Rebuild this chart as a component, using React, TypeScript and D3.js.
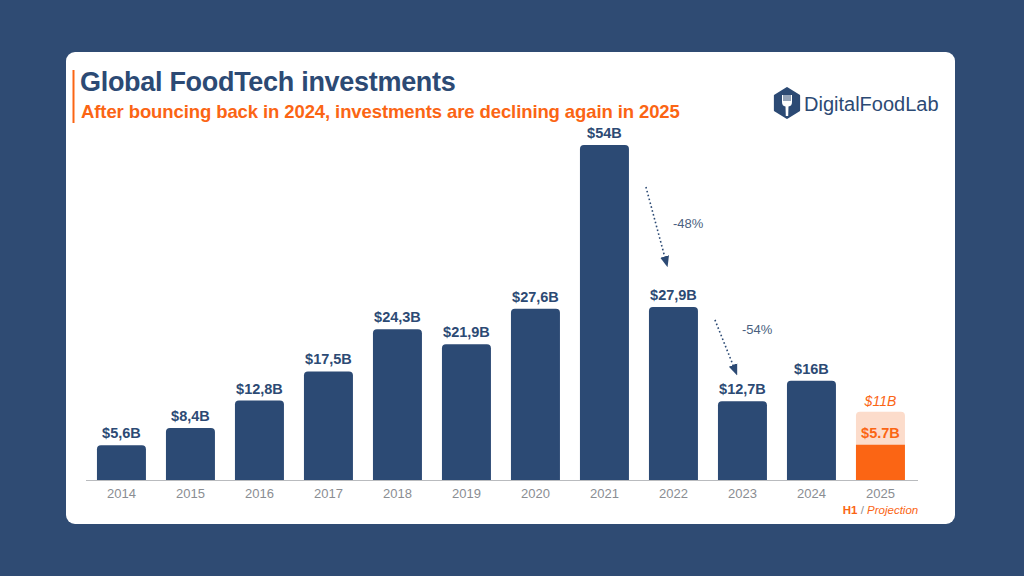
import React from 'react';
import * as d3 from 'd3';

const years = ['2014', '2015', '2016', '2017', '2018', '2019', '2020', '2021', '2022', '2023', '2024', '2025'];
const invest = [5.6, 8.4, 12.8, 17.5, 24.3, 21.9, 27.6, 54, 27.9, 12.7, 16, 5.7];
const labels = ['$5,6B', '$8,4B', '$12,8B', '$17,5B', '$24,3B', '$21,9B', '$27,6B', '$54B', '$27,9B', '$12,7B', '$16B', '$5.7B'];
const projection2025 = 11;
const changeFrom = ['2021', '2022'];
const changeTo = ['2022', '2023'];
const changeText = ['-48%', '-54%'];

const W = 1024, H = 576;
const navy = '#2c4a74';
const orange = '#fb6514';
const lightOrange = '#fcdccb';
const font = '"Liberation Sans", Arial, Helvetica, sans-serif';

export default function App() {
  const base = 480;
  const x = d3.scaleBand<string>().domain(years).range([86.6, 915.3]).paddingInner(0.29).paddingOuter(0.15);
  const y = d3.scaleLinear().domain([0, 54]).range([base, 145]);
  const bw = x.bandwidth();
  const valOf = (yr: string) => invest[years.indexOf(yr)];
  // arrow offsets (start below "from" top, end above "to" top, label shift)
  const arrowGeom = [
    { sy: 42, ey: 45, ty: 41 },
    { sy: 13, ey: 31, ty: 14 },
  ];

  return (
    <svg width={W} height={H} viewBox={`0 0 ${W} ${H}`} style={{ display: 'block', position: 'absolute', left: 0, top: 0 }}>
      <defs>
        <marker id="ah" viewBox="0 0 10 10" refX="5" refY="5" markerWidth="7" markerHeight="7" orient="auto">
          <path d="M0,1 L10,5 L0,9 Z" fill={navy} />
        </marker>
      </defs>
      <rect x={0} y={0} width={W} height={H} fill="#2f4b73" />
      <rect x={66} y={52} width={889} height={472} rx={9} fill="#ffffff" />

      {/* title block */}
      <line x1={73.5} x2={73.5} y1={70} y2={123} stroke={orange} strokeWidth={2} />
      <text x={80} y={91} fontFamily={font} fontWeight="bold" fontSize={27} fill={navy} letterSpacing={-0.3}>Global FoodTech investments</text>
      <text x={81} y={118} fontFamily={font} fontWeight="bold" fontSize={18.5} fill={orange} letterSpacing={-0.1}>After bouncing back in 2024, investments are declining again in 2025</text>

      {/* logo */}
      <g transform="translate(787,103)">
        <path d={d3.range(6).map(i => {
          const a = Math.PI / 3 * i - Math.PI / 2;
          return `${i ? 'L' : 'M'}${(14 * Math.cos(a)).toFixed(2)},${(15 * Math.sin(a)).toFixed(2)}`;
        }).join('') + 'Z'} fill={navy} strokeLinejoin="round" stroke={navy} strokeWidth={2} />
        <path d="M-5,-8 L-5,-1 Q-5,3 -1.5,3.5 L-1.2,13 L1.2,13 L1.5,3.5 Q5,3 5,-1 L5,-8" fill="#ffffff" />
        {[-3, -1, 1, 3].map(d => <rect key={d} x={d - 0.5} y={-9} width={1} height={7} fill={navy} />)}
      </g>
      <text x={804} y={111} fontFamily={font} fontSize={20} fill={navy}>DigitalFoodLab</text>

      {/* 2025 projection */}
      <rect x={x('2025')} y={y(projection2025)} width={bw} height={base - y(projection2025)} rx={4} fill={lightOrange} />
      <text x={x('2025')! + bw / 2} y={y(projection2025) - 6} textAnchor="middle" fontFamily={font} fontStyle="italic" fontSize={14} fill={orange}>$11B</text>

      {/* bars */}
      {years.map((yr, i) => {
        const last = yr === '2025';
        const top = y(invest[i]);
        return (
          <g key={yr}>
            <path
              d={last
                ? `M${x(yr)},${base}V${top}H${x(yr)! + bw}V${base}Z`
                : `M${x(yr)},${base}V${top + 4}Q${x(yr)},${top} ${x(yr)! + 4},${top}H${x(yr)! + bw - 4}Q${x(yr)! + bw},${top} ${x(yr)! + bw},${top + 4}V${base}Z`}
              fill={last ? orange : navy}
            />
            <text x={x(yr)! + bw / 2} y={top - 7} textAnchor="middle" fontFamily={font} fontWeight="bold" fontSize={14.5}
              fill={last ? orange : navy}>{labels[i]}</text>
            <text x={x(yr)! + bw / 2} y={498} textAnchor="middle" fontFamily={font} fontSize={13} fill="#8a8d92">{yr}</text>
          </g>
        );
      })}
      <line x1={86} x2={918} y1={base + 0.5} y2={base + 0.5} stroke="#b9bbbe" strokeWidth={1.2} />
      <text x={x('2025')! + bw / 2} y={514} textAnchor="middle" fontFamily={font} fontSize={11.5} fill={orange}>
        <tspan fontWeight="bold">H1</tspan><tspan fill="#8a8d92"> / </tspan><tspan fontStyle="italic">Projection</tspan>
      </text>

      {/* decline annotations */}
      {changeText.map((t, i) => {
        const g = arrowGeom[i];
        const x1 = x(changeFrom[i])! + bw + 17;
        const y1 = y(valOf(changeFrom[i])) + g.sy;
        const x2 = x(changeTo[i])! + bw * 0.35;
        const y2 = y(valOf(changeTo[i])) - g.ey;
        return (
          <g key={t}>
            <line x1={x1} y1={y1} x2={x2} y2={y2} stroke={navy} strokeWidth={1.6} strokeDasharray="1.6 2.4" markerEnd="url(#ah)" />
            <text x={x1 + 27} y={y1 + g.ty} fontFamily={font} fontSize={13} fill="#4a5f80">{t}</text>
          </g>
        );
      })}
    </svg>
  );
}
